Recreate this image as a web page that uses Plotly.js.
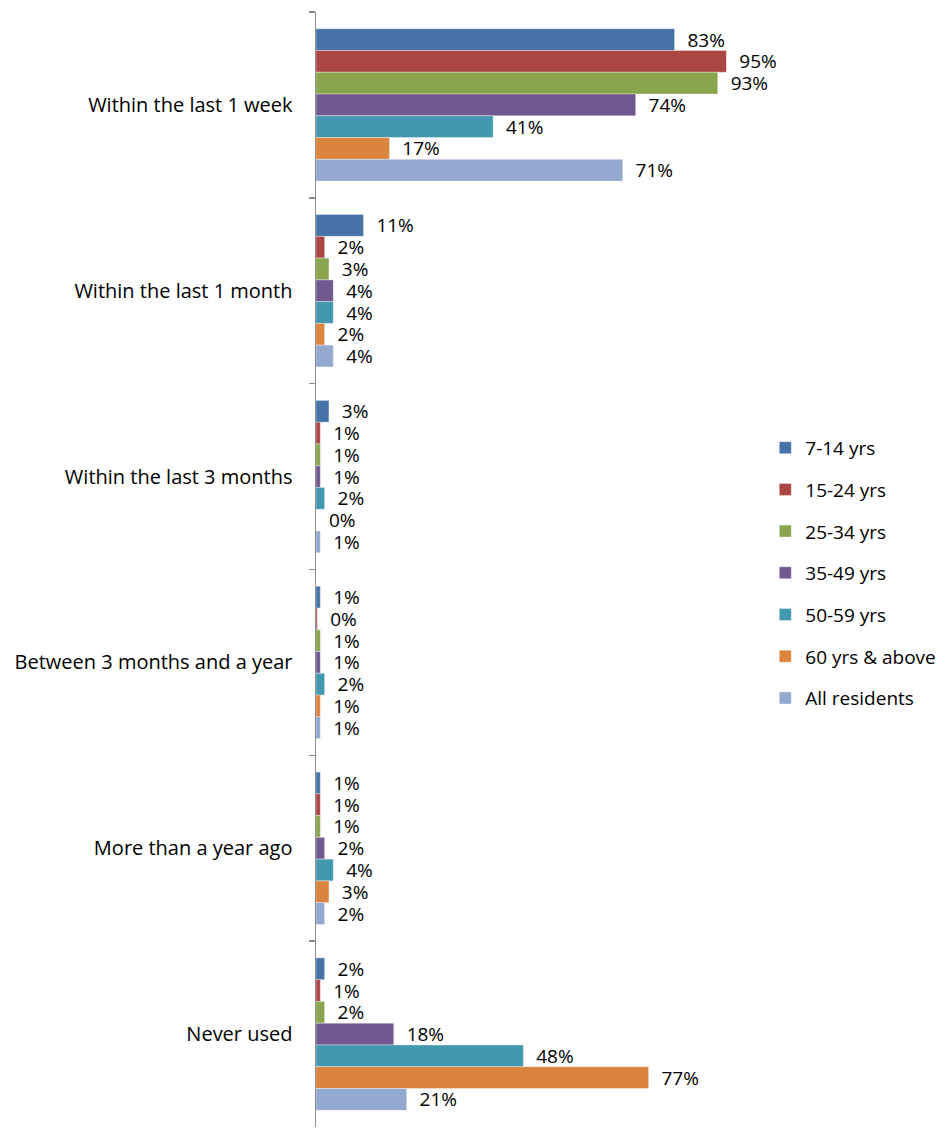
<!DOCTYPE html>
<html>
<head>
<meta charset="utf-8">
<script src="https://cdn.plot.ly/plotly-3.0.1.min.js"></script>
<style>
  html, body { margin: 0; padding: 0; background: #fff; }
  #chart { width: 949px; height: 1129px; }
</style>
</head>
<body>
<div id="chart"></div>
<script>
// Data
let categories = [
  "Within the last 1 week",
  "Within the last 1 month",
  "Within the last 3 months",
  "Between 3 months and a year",
  "More than a year ago",
  "Never used"
];

let seriesNames = ["7-14 yrs", "15-24 yrs", "25-34 yrs", "35-49 yrs", "50-59 yrs", "60 yrs & above", "All residents"];

let age7to14 = [83, 11, 3, 1, 1, 2];
let age15to24 = [95, 2, 1, 0.3, 1, 1];
let age25to34 = [93, 3, 1, 1, 1, 2];
let age35to49 = [74, 4, 1, 1, 2, 18];
let age50to59 = [41, 4, 2, 2, 4, 48];
let age60plus = [17, 2, 0, 1, 3, 77];
let allResidents = [71, 4, 1, 1, 2, 21];

let seriesValues = [age7to14, age15to24, age25to34, age35to49, age50to59, age60plus, allResidents];
let seriesColors = ["#4572A7", "#AA4643", "#89A54E", "#71588F", "#4198AF", "#DB843D", "#93A9CF"];

let fontFamily = "'Open Sans', sans-serif";

function createBarChart() {
  let pad = "\u00a0\u00a0";

  let barData = seriesValues.map(function (vals, i) {
    return {
      type: "bar",
      orientation: "h",
      name: seriesNames[i],
      legendgroup: "g" + i,
      y: categories,
      x: vals,
      marker: {
        color: seriesColors[i],
        line: { color: "rgba(255,255,255,0.6)", width: 0.6 }
      },
      texttemplate: pad + "%{x:.0f}%",
      textposition: "outside",
      constraintext: "none",
      cliponaxis: false,
      textfont: { family: fontFamily, size: 19, color: "#000" },
      hoverinfo: "skip"
    };
  });

  let barLayout = {
    width: 949,
    height: 1129,
    margin: { l: 316, r: 201, t: 12, b: 2, autoexpand: false },
    paper_bgcolor: "#fff",
    plot_bgcolor: "#fff",
    barmode: "group",
    bargap: 0.18,
    bargroupgap: 0,
    font: { family: fontFamily, size: 20, color: "#000" },
    xaxis: {
      range: [0, 100],
      visible: false,
      showgrid: false,
      zeroline: false
    },
    yaxis: {
      type: "category",
      autorange: "reversed",
      automargin: false,
      showline: true,
      linecolor: "#8c8c8c",
      linewidth: 1.5,
      ticks: "outside",
      tickson: "boundaries",
      ticklen: 6,
      tickcolor: "#8c8c8c",
      tickwidth: 1.5,
      ticklabelstandoff: 18,
      showgrid: false,
      zeroline: false,
      tickfont: { size: 20, color: "#000" }
    },
    showlegend: true,
    legend: {
      x: 1.04,
      xanchor: "left",
      y: 0.497,
      yanchor: "middle",
      traceorder: "grouped",
      tracegroupgap: 14,
      font: { size: 19, color: "#000" },
      bgcolor: "rgba(0,0,0,0)"
    }
  };

  Plotly.newPlot("chart", barData, barLayout, { displayModeBar: false, staticPlot: true });
}

createBarChart();
</script>
</body>
</html>
